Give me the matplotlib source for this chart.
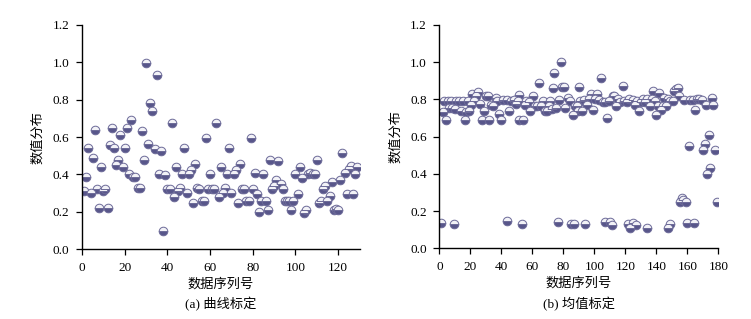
import numpy as np
import matplotlib
matplotlib.use('Agg')
import matplotlib.pyplot as plt

plt.rcParams['font.family'] = ['Liberation Serif', 'Noto Sans CJK SC']
plt.rcParams['axes.unicode_minus'] = False

# (a) curve calibration: value per sample index
val_a = [0.31, 0.385, 0.54, 0.30, 0.49, 0.64, 0.32, 0.22, 0.44, 0.31,
         0.32, 0.22, 0.556, 0.65, 0.54, 0.45, 0.48, 0.61, 0.44, 0.54,
         0.65, 0.40, 0.69, 0.385, 0.385, 0.33, 0.33, 0.63, 0.48, 0.995,
         0.563, 0.78, 0.74, 0.535, 0.934, 0.40, 0.524, 0.098, 0.396, 0.32,
         0.32, 0.675, 0.28, 0.44, 0.31, 0.33, 0.40, 0.54, 0.30, 0.40,
         0.426, 0.25, 0.458, 0.33, 0.32, 0.26, 0.26, 0.595, 0.324, 0.40,
         0.324, 0.324, 0.675, 0.28, 0.44, 0.30, 0.33, 0.40, 0.54, 0.30,
         0.40, 0.426, 0.25, 0.458, 0.324, 0.32, 0.26, 0.26, 0.595, 0.324,
         0.41, 0.296, 0.20, 0.26, 0.40, 0.26, 0.21, 0.48, 0.324, 0.337,
         0.37, 0.47, 0.35, 0.324, 0.26, 0.26, 0.26, 0.21, 0.26, 0.40,
         0.296, 0.44, 0.38, 0.196, 0.21, 0.40, 0.41, 0.40, 0.40, 0.48,
         0.25, 0.26, 0.324, 0.337, 0.26, 0.285, 0.358, 0.21, 0.217, 0.21,
         0.37, 0.515, 0.41, 0.296, 0.428, 0.445, 0.296, 0.40, 0.44]
seq_a = np.arange(len(val_a)) + 1

# (b) mean calibration: sample index and value
idx_b = [1.3, 2.2, 3.2, 4.3, 5.4, 6.5, 7.3, 8.2, 9.5, 10.3, 10.8, 12.5, 14.2, 15,
         16.3, 17.2, 18.5, 18.9, 20.2, 21.3, 22.6, 23.7, 25.2, 26.5, 27.3, 28.6,
         30.1, 31.2, 32.3, 33.3, 34.8, 36.3, 37, 38.3, 39.8, 41.3, 43.4, 43.4,
         45.2, 46.5, 48.2, 49.5, 50.5, 51.4, 51.6, 53.3, 54.2, 55, 56, 57.6,
         58.5, 60.2, 61.5, 63, 64.5, 65.4, 67.1, 68, 69.7, 70.5, 71.4, 72.5,
         73.1, 74.2, 75.3, 76.3, 77, 78.3, 79.1, 80.4, 81.3, 83, 84.3, 85, 86,
         87, 87.7, 89, 89.2, 90.3, 91, 92, 93.5, 94.2, 95.3, 96.8, 98, 99.4,
         100.4, 101.5, 102.8, 104, 105.4, 106.7, 106.9, 108.2, 109.7, 110,
         111.2, 111.8, 112.9, 114.2, 115.5, 116.8, 118.3, 119.4, 120.9, 121.5,
         122.6, 123, 124.7, 125.2, 126, 126.9, 127.3, 129, 130.1, 131.6, 132.9,
         134, 134.2, 135.9, 137.2, 138, 139.1, 140, 141.3, 142, 143, 144, 145.2,
         146.2, 147.3, 147.7, 148.8, 149, 150.8, 151.6, 152.7, 153.8, 154.8,
         155.5, 156.3, 157.2, 158, 159, 160, 161, 161.9, 163.4, 164, 165, 166.2,
         167.7, 169.2, 169.9, 171.2, 172, 172.7, 174, 174.8, 175.9, 176.8, 178,
         179.4]
val_b = [0.135, 0.73, 0.79, 0.69, 0.79, 0.754, 0.79, 0.754, 0.133, 0.75, 0.79, 0.79,
         0.74, 0.79, 0.69, 0.73, 0.79, 0.735, 0.77, 0.83, 0.79, 0.82, 0.84, 0.777,
         0.69, 0.74, 0.817, 0.82, 0.69, 0.77, 0.767, 0.81, 0.79, 0.72, 0.69, 0.795,
         0.149, 0.795, 0.74, 0.79, 0.795, 0.777, 0.79, 0.826, 0.69, 0.133, 0.69,
         0.77, 0.79, 0.786, 0.74, 0.817, 0.763, 0.763, 0.89, 0.767, 0.79, 0.74,
         0.74, 0.767, 0.79, 0.75, 0.86, 0.94, 0.754, 0.142, 0.795, 1.0, 0.867,
         0.867, 0.752, 0.81, 0.79, 0.129, 0.716, 0.129, 0.767, 0.763, 0.74, 0.867,
         0.79, 0.74, 0.795, 0.129, 0.77, 0.80, 0.83, 0.745, 0.80, 0.83, 0.795,
         0.915, 0.785, 0.785, 0.14, 0.70, 0.79, 0.14, 0.126, 0.82, 0.817, 0.763,
         0.80, 0.785, 0.87, 0.79, 0.785, 0.13, 0.80, 0.107, 0.795, 0.138, 0.77,
         0.126, 0.79, 0.74, 0.785, 0.80, 0.786, 0.11, 0.80, 0.763, 0.80, 0.847,
         0.79, 0.718, 0.763, 0.835, 0.745, 0.767, 0.81, 0.767, 0.80, 0.107, 0.79,
         0.13, 0.79, 0.847, 0.853, 0.862, 0.82, 0.25, 0.27, 0.26, 0.795, 0.25,
         0.135, 0.55, 0.795, 0.795, 0.135, 0.745, 0.80, 0.80, 0.795, 0.53, 0.56,
         0.768, 0.40, 0.61, 0.43, 0.81, 0.768, 0.53, 0.25]

yticks = [0.0, 0.2, 0.4, 0.6, 0.8, 1.0, 1.2]
ylabel = '数值分布'
xlabel = '数据序列号'

fig = plt.figure(figsize=(7.51, 3.19), dpi=100)
ax1 = fig.add_axes([0.1092, 0.2185, 0.3695, 0.7035])
ax2 = fig.add_axes([0.585, 0.2215, 0.3715, 0.7005])

marker_style = dict(linestyle='none', marker='o', markersize=6.2,
                    fillstyle='bottom', markerfacecolor='#58568a',
                    markerfacecoloralt='#f2f2f7', markeredgecolor='#6c6a98',
                    markeredgewidth=0.7)

ax1.plot(seq_a, val_a, **marker_style)
ax2.plot(idx_b, val_b, **marker_style)

for ax, xlim, xt in [(ax1, (0, 130), range(0, 121, 20)),
                     (ax2, (0, 180), range(0, 181, 20))]:
    ax.set_xlim(*xlim)
    ax.set_ylim(0, 1.2)
    ax.set_xticks(list(xt))
    ax.set_yticks(yticks)
    ax.set_yticklabels(['%.1f' % t for t in yticks])
    ax.spines['top'].set_visible(False)
    ax.spines['right'].set_visible(False)
    ax.spines['left'].set_linewidth(1.0)
    ax.spines['bottom'].set_linewidth(1.0)
    ax.tick_params(direction='out', length=4, width=0.9, labelsize=9.5, pad=5)
    ax.set_xlabel(xlabel, fontsize=9.5, labelpad=3)
    ax.set_ylabel(ylabel, fontsize=9.5, labelpad=6)

fig.text(0.1092 + 0.3695 / 2, 0.035, '(a) 曲线标定', ha='center', fontsize=9.5)
fig.text(0.585 + 0.3715 / 2, 0.035, '(b) 均值标定', ha='center', fontsize=9.5)

fig.savefig('out.png', dpi=100)
